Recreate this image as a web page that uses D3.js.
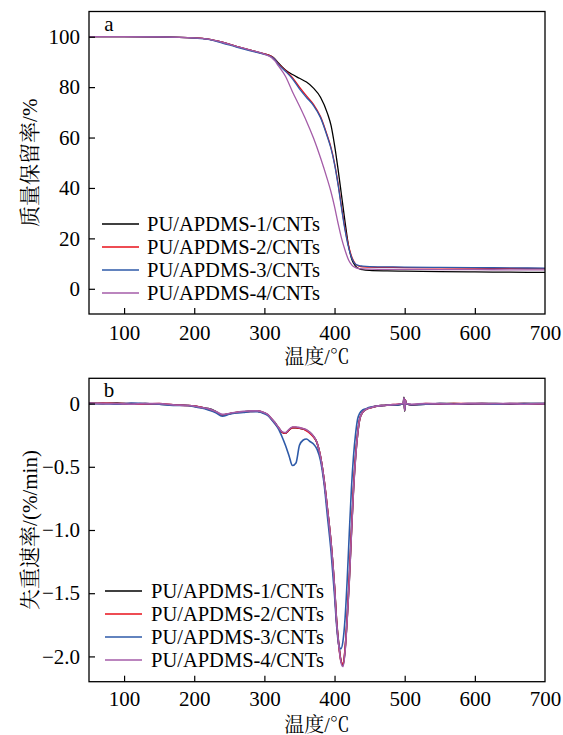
<!DOCTYPE html>
<html>
<head>
<meta charset="utf-8">
<script src="https://cdn.jsdelivr.net/npm/d3@7"></script>
<style>
  html, body { margin: 0; padding: 0; background: #fff; }
  svg { display: block; }
  text { font-family: "Liberation Serif", "Times New Roman", "Noto Serif CJK SC", "Noto Sans CJK SC", serif; fill: #000; }
</style>
</head>
<body>
<svg id="chart" width="563" height="735"></svg>
<script>
// ---------------- DATA ----------------
const seriesNames = ["PU/APDMS-1/CNTs", "PU/APDMS-2/CNTs", "PU/APDMS-3/CNTs", "PU/APDMS-4/CNTs"];
const seriesColors = ["#000000", "#e8101a", "#2e5aa8", "#a45ca8"];

// Panel a: TGA (mass retention %)
const tgaTemp = [50, 100, 150, 200, 220, 240, 260, 280, 300, 310, 315, 320, 330, 340, 350, 360, 370, 380, 390, 395, 400, 405, 410, 415, 420, 425, 430, 435, 440, 450, 475, 500, 550, 600, 650, 700];
const tga1 = [100, 100, 99.9, 99.5, 99.0, 97.8, 96.2, 94.7, 93.2, 92.2, 91.2, 89.6, 86.8, 85.0, 83.5, 82.0, 79.6, 76.0, 69.5, 64.8, 57.0, 47.5, 37.0, 26.5, 17.0, 11.4, 9.0, 8.0, 7.6, 7.3, 7.1, 7.0, 6.8, 6.7, 6.6, 6.5];
const tga2 = [100, 100, 99.9, 99.5, 99.0, 97.8, 96.2, 94.7, 93.2, 92.2, 91.0, 89.2, 86.6, 83.8, 80.0, 76.5, 73.2, 68.3, 60.5, 56.0, 49.8, 41.8, 32.5, 23.8, 17.0, 12.3, 9.8, 9.0, 8.7, 8.6, 8.5, 8.4, 8.3, 8.2, 8.1, 8.0];
const tga3 = [100, 100, 99.9, 99.4, 98.9, 97.5, 95.9, 94.4, 93.0, 92.0, 90.9, 89.0, 86.3, 83.3, 79.3, 75.9, 72.7, 67.9, 60.1, 55.6, 49.4, 41.3, 31.9, 23.2, 16.4, 11.9, 9.7, 9.2, 9.0, 8.8, 8.7, 8.6, 8.5, 8.4, 8.3, 8.2];
const tga4 = [100, 100, 99.9, 99.5, 99.0, 97.8, 96.2, 94.7, 93.1, 91.8, 90.4, 88.4, 84.3, 78.2, 72.5, 66.5, 59.8, 52.0, 43.2, 38.4, 32.6, 26.0, 20.0, 15.3, 11.4, 9.3, 8.4, 8.0, 7.9, 7.8, 7.7, 7.7, 7.6, 7.6, 7.5, 7.5];

// Panel b: DTG (%/min)
const dtgTemp = [50, 70, 90, 110, 130, 150, 170, 190, 200, 210, 220, 230, 240, 250, 260, 270, 280, 290, 300, 305, 310, 315, 320, 325, 330, 335, 340, 345, 350, 355, 360, 365, 370, 375, 380, 385, 390, 395, 400, 403, 406, 409, 412, 415, 418, 421, 424, 427, 430, 433, 436, 440, 445, 450, 460, 470, 480, 490, 498, 499, 500, 501, 502, 510, 530, 550, 570, 590, 610, 630, 650, 670, 690, 700];
const dtg1 = [0.005, 0.0, 0.005, -0.005, 0.0, -0.005, -0.01, -0.015, -0.02, -0.03, -0.04, -0.06, -0.09, -0.08, -0.07, -0.065, -0.06, -0.06, -0.075, -0.09, -0.12, -0.15, -0.19, -0.225, -0.235, -0.21, -0.19, -0.19, -0.195, -0.2, -0.21, -0.23, -0.26, -0.31, -0.42, -0.6, -0.84, -1.1, -1.45, -1.72, -1.9, -2.03, -2.07, -1.95, -1.7, -1.4, -1.03, -0.68, -0.42, -0.24, -0.12, -0.07, -0.045, -0.035, -0.02, -0.015, -0.01, -0.01, 0.0, 0.05, -0.06, 0.03, 0.0, -0.01, -0.005, 0.0, 0.0, -0.005, 0.0, 0.0, -0.005, 0.0, 0.0, 0.0];
const dtg2 = [0.0, 0.005, 0.0, 0.0, -0.005, 0.0, -0.01, -0.015, -0.02, -0.03, -0.045, -0.065, -0.09, -0.08, -0.07, -0.065, -0.062, -0.06, -0.075, -0.09, -0.12, -0.155, -0.19, -0.225, -0.235, -0.21, -0.19, -0.19, -0.195, -0.2, -0.215, -0.235, -0.265, -0.31, -0.42, -0.6, -0.84, -1.1, -1.46, -1.73, -1.91, -2.03, -2.06, -1.94, -1.69, -1.38, -1.02, -0.67, -0.41, -0.23, -0.12, -0.07, -0.045, -0.035, -0.02, -0.015, -0.01, -0.005, 0.0, 0.04, -0.05, 0.03, 0.0, -0.01, 0.0, -0.005, 0.0, 0.0, 0.0, -0.005, 0.0, 0.0, -0.005, 0.0];
const dtg3 = [0.0, 0.0, -0.005, 0.005, 0.0, -0.005, -0.015, -0.015, -0.025, -0.035, -0.05, -0.07, -0.1, -0.085, -0.075, -0.07, -0.065, -0.065, -0.08, -0.095, -0.125, -0.16, -0.2, -0.26, -0.33, -0.41, -0.49, -0.47, -0.33, -0.29, -0.28, -0.3, -0.32, -0.36, -0.45, -0.63, -0.9, -1.17, -1.52, -1.76, -1.91, -1.94, -1.88, -1.7, -1.4, -1.03, -0.68, -0.42, -0.24, -0.12, -0.075, -0.05, -0.04, -0.03, -0.02, -0.015, -0.01, -0.01, 0.0, 0.04, -0.05, 0.02, 0.0, -0.01, -0.005, 0.0, -0.005, 0.0, 0.0, -0.005, 0.0, 0.0, 0.0, 0.0];
const dtg4 = [0.005, 0.0, 0.0, -0.005, 0.0, 0.0, -0.01, -0.015, -0.02, -0.03, -0.04, -0.06, -0.085, -0.078, -0.068, -0.062, -0.058, -0.058, -0.072, -0.088, -0.118, -0.15, -0.188, -0.222, -0.23, -0.205, -0.185, -0.185, -0.19, -0.197, -0.207, -0.228, -0.258, -0.308, -0.42, -0.6, -0.84, -1.1, -1.45, -1.73, -1.91, -2.04, -2.08, -1.96, -1.71, -1.41, -1.04, -0.69, -0.43, -0.24, -0.12, -0.07, -0.045, -0.035, -0.02, -0.015, -0.01, -0.005, 0.0, 0.045, -0.055, 0.03, 0.0, -0.005, 0.0, 0.0, -0.005, 0.0, 0.0, 0.0, 0.0, -0.005, 0.0, 0.0];

const xTicks = [100, 200, 300, 400, 500, 600, 700];
const yTicksA = [0, 20, 40, 60, 80, 100];
const yTicksB = [0, -0.5, -1.0, -1.5, -2.0];
const yTickLabelsB = ["0", "\u22120.5", "\u22121.0", "\u22121.5", "\u22122.0"];
const xTitle = "温度/℃";
const yTitleA = "质量保留率/%";
const yTitleB = "失重速率/(%/min)";

// ---------------- DRAW ----------------
const svg = d3.select("#chart");
const L = 89, R = 545;
const x = d3.scaleLinear().domain([50, 700]).range([L, R]);
const panels = [
  { top: 11.5, bottom: 314, domain: [-10, 110], ticks: yTicksA, labels: yTicksA.map(String),
    temp: tgaTemp, series: [tga1, tga2, tga3, tga4], tag: "a", yTitle: yTitleA,
    legendY: 224, legX1: 102, legX2: 139, legTx: 147, titleY: 357, tickPad: 11, width: 1.3 },
  { top: 378.3, bottom: 681.7, domain: [-2.2, 0.2], ticks: yTicksB, labels: yTickLabelsB,
    temp: dtgTemp, series: [dtg1, dtg2, dtg3, dtg4], tag: "b", yTitle: yTitleB,
    legendY: 591, legX1: 105, legX2: 142, legTx: 151, titleY: 725, tickPad: 9, width: 1.6 }
];

panels.forEach(p => {
  const y = d3.scaleLinear().domain(p.domain).range([p.bottom, p.top]);
  const g = svg.append("g");

  const cid = "clip-" + p.tag;
  svg.append("clipPath").attr("id", cid).append("rect")
    .attr("x", L).attr("y", p.top).attr("width", R - L).attr("height", p.bottom - p.top);

  const line = d3.line().x(d => x(d[0])).y(d => y(d[1])).curve(d3.curveMonotoneX);
  p.series.forEach((s, i) => {
    const pts = p.temp.map((t, j) => [t, s[j]]);
    g.append("path").attr("d", line(pts)).attr("fill", "none")
      .attr("stroke", seriesColors[i]).attr("stroke-width", p.width)
      .attr("clip-path", `url(#${cid})`);
  });

  const ax = d3.axisBottom(x).tickValues(xTicks).tickSizeInner(-6).tickSizeOuter(0).tickPadding(p.tickPad).tickFormat(d3.format("d"));
  const gx = svg.append("g").attr("transform", `translate(0,${p.bottom})`).call(ax);
  const ay = d3.axisLeft(y).tickValues(p.ticks).tickSizeInner(-6).tickSizeOuter(0).tickPadding(9)
    .tickFormat((d, i) => p.labels[i]);
  const gy = svg.append("g").attr("transform", `translate(${L},0)`).call(ay);
  [gx, gy].forEach(a => {
    a.select(".domain").remove();
    a.selectAll(".tick line").attr("stroke", "#000").attr("stroke-width", 1.2);
    a.selectAll("text").style("font-size", "21px").attr("font-family", null);
  });
  gx.selectAll(".tick").filter(d => d === 700).select("line").remove();

  svg.append("rect").attr("x", L).attr("y", p.top).attr("width", R - L).attr("height", p.bottom - p.top)
    .attr("fill", "none").attr("stroke", "#000").attr("stroke-width", 1.3);

  svg.append("text").attr("x", L + 20).attr("y", p.top + 12).attr("text-anchor", "middle")
    .attr("dominant-baseline", "central").style("font-size", "21px").text(p.tag);

  seriesNames.forEach((n, i) => {
    const yy = p.legendY + i * 23;
    svg.append("line").attr("x1", p.legX1).attr("x2", p.legX2).attr("y1", yy).attr("y2", yy)
      .attr("stroke", seriesColors[i]).attr("stroke-width", 1.5);
    svg.append("text").attr("x", p.legTx).attr("y", yy).attr("dominant-baseline", "central")
      .style("font-size", "20.5px").text(n);
  });

  svg.append("text").attr("x", (L + R) / 2).attr("y", p.titleY).attr("text-anchor", "middle")
    .attr("dominant-baseline", "central").style("font-size", "20px").text(xTitle);
  const cy = (p.top + p.bottom) / 2;
  svg.append("text").attr("transform", `translate(30,${cy}) rotate(-90)`).attr("text-anchor", "middle")
    .attr("dominant-baseline", "central").style("font-size", "21px").text(p.yTitle);
});
</script>
</body>
</html>
